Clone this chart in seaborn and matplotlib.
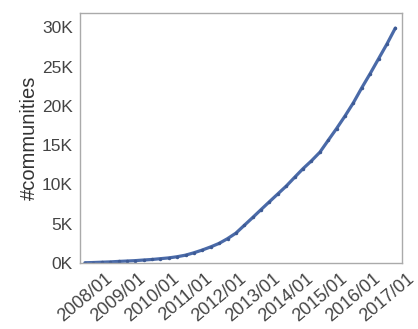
import matplotlib
matplotlib.use('Agg')
import matplotlib.pyplot as plt
import matplotlib.dates as mdates
import matplotlib.ticker as mticker
import seaborn as sns
import pandas as pd

# quarterly readings of the cumulative count (thousands)
meses = pd.date_range('2008-01-01', '2017-04-01', freq='QS')
comunidades = [
    0.03, 0.06, 0.10, 0.14,
    0.20, 0.25, 0.30, 0.38,
    0.45, 0.55, 0.65, 0.80,
    1.00, 1.30, 1.65, 2.05,
    2.50, 3.10, 3.80, 4.80,
    5.80, 6.80, 7.80, 8.80,
    9.80, 10.9, 12.0, 13.0,
    14.1, 15.6, 17.1, 18.7,
    20.4, 22.3, 24.1, 26.0,
    27.9, 29.9,
]
anos = pd.date_range('2008-01-01', '2017-01-01', freq='YS')

df = pd.DataFrame({'mes': meses, 'n': [v * 1000 for v in comunidades]})

sns.set_style('white')
plt.rcParams['font.family'] = ['Liberation Sans', 'DejaVu Sans']

fig = plt.figure(figsize=(4.18, 3.29), dpi=100)
ax = fig.add_axes([0.191, 0.2006, 0.771, 0.7594])

sns.lineplot(data=df, x='mes', y='n', ax=ax, color='#4a6aa8', linewidth=2.3,
             marker='o', markersize=2.5, markeredgewidth=0,
             markerfacecolor='#3d5a94')

ax.set_xlim(pd.Timestamp('2007-11-07'), pd.Timestamp('2017-06-14'))
ax.set_ylim(0, 31800)
ax.set_xticks(anos)
ax.xaxis.set_major_formatter(mdates.DateFormatter('%Y/%m'))
ax.set_yticks([0, 5000, 10000, 15000, 20000, 25000, 30000])
ax.yaxis.set_major_formatter(mticker.FuncFormatter(lambda v, p: f'{int(v / 1000)}K'))

ax.set_xlabel('')
ax.set_ylabel('#communities', fontsize=14.5, color='#333333', labelpad=2)
ax.tick_params(axis='both', direction='out', length=3, width=0.8, color='#999999',
               labelcolor='#444444', pad=2)
ax.tick_params(axis='y', labelsize=12.5)
ax.tick_params(axis='x', labelsize=13)
plt.setp(ax.get_xticklabels(), rotation=40, ha='center')

for s in ax.spines.values():
    s.set_color('#aaaaaa')
    s.set_linewidth(1)

fig.savefig('out.png', dpi=100)
